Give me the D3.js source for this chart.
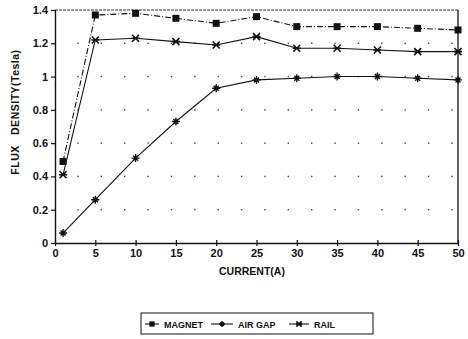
<!DOCTYPE html>
<meta charset="utf-8" />
<style>
    body { margin: 0; background: #fff; }
    text { font-family: "Liberation Sans", Arial, sans-serif; font-weight: bold; fill: #111; }
</style>
<body></body>
<script src="https://d3js.org/d3.v7.min.js"></script>
<script>

    // data
    var current = [1, 5, 10, 15, 20, 25, 30, 35, 40, 45, 50];
    var magnet = [0.49, 1.37, 1.38, 1.35, 1.32, 1.36, 1.30, 1.30, 1.30, 1.29, 1.28];
    var airGap = [0.06, 0.26, 0.51, 0.73, 0.93, 0.98, 0.99, 1.00, 1.00, 0.99, 0.98];
    var rail = [0.41, 1.22, 1.23, 1.21, 1.19, 1.24, 1.17, 1.17, 1.16, 1.15, 1.15];
    var xTicks = [0, 5, 10, 15, 20, 25, 30, 35, 40, 45, 50];
    var yTicks = [0, 0.2, 0.4, 0.6, 0.8, 1, 1.2, 1.4];
    var dotRows = [0.2, 0.4, 0.6, 0.8, 1, 1.2];
    var dotCols = d3.range(17).map(function (i) { return 2.85 + i * 2.9; });

    var svgWidth = 468, svgHeight = 339;
    var margin = {top: 10, right: 10, bottom: 96, left: 55};
    var width = 458 - margin.left;
    var height = 243 - margin.top;

    var svg = d3.select("body").append("svg")
        .attr("width", svgWidth)
        .attr("height", svgHeight);

    var g = svg.append("g")
        .attr("transform", "translate(" + margin.left + "," + margin.top + ")");

    var x = d3.scaleLinear().domain([0, 50]).range([0, width]);
    var y = d3.scaleLinear().domain([0, 1.4]).range([height, 0]);

    // dotted grid
    dotRows.forEach(function (r) {
        g.selectAll(null).data(dotCols).enter().append("rect")
            .attr("x", function (d) { return x(d) - 0.7; })
            .attr("y", y(r) - 0.7)
            .attr("width", 1.4).attr("height", 1.4)
            .attr("fill", "#444");
    });

    // frame: dashed top, solid right
    g.append("line").attr("x1", 0).attr("x2", width).attr("y1", 0).attr("y2", 0)
        .attr("stroke", "#333").attr("stroke-width", 1).attr("stroke-dasharray", "3,1");
    g.append("line").attr("x1", width).attr("x2", width).attr("y1", 0).attr("y2", height)
        .attr("stroke", "#111").attr("stroke-width", 1.3);

    // axes
    var xAxis = d3.axisBottom(x).tickValues(xTicks).tickSize(4).tickSizeOuter(0);
    var yAxis = d3.axisLeft(y).tickValues(yTicks).tickSize(4).tickSizeOuter(0)
        .tickFormat(function (d) { return d3.format("~g")(d); });

    var gx = g.append("g").attr("transform", "translate(0," + height + ")").call(xAxis);
    var gy = g.append("g").call(yAxis);
    [gx, gy].forEach(function (a) {
        a.select(".domain").attr("stroke", "#111").attr("stroke-width", 1.4);
        a.selectAll(".tick line").attr("stroke", "#111").attr("stroke-width", 1.2);
        a.selectAll("text").style("font-size", "11px").attr("fill", "#111");
    });
    gx.selectAll(".tick line").attr("y1", -3).attr("y2", 3);
    gx.selectAll("text").attr("dy", "0.6em");
    gy.selectAll(".tick line").attr("x1", -4).attr("x2", 1);

    // axis titles
    svg.append("text")
        .attr("x", 252).attr("y", 275)
        .attr("text-anchor", "middle")
        .style("font-size", "10.5px")
        .text("CURRENT(A)");
    svg.append("text")
        .attr("transform", "translate(19,112) rotate(-90)")
        .attr("text-anchor", "middle")
        .style("font-size", "10.5px")
        .style("letter-spacing", "0.5px")
        .attr("xml:space", "preserve")
        .text("FLUX   DENSITY(Tesla)");

    // series
    var series = [
        {name: "MAGNET", values: magnet, dash: "6,2,1,2", marker: "square"},
        {name: "AIR GAP", values: airGap, dash: null, marker: "plus"},
        {name: "RAIL", values: rail, dash: null, marker: "star"}
    ];

    var line = d3.line()
        .x(function (d) { return x(d[0]); })
        .y(function (d) { return y(d[1]); });

    function drawMarker(sel, type, cx, cy, s) {
        s = s || 1;
        if (type === "square") {
            sel.append("rect").attr("x", cx - 3.5 * s).attr("y", cy - 3.5 * s)
                .attr("width", 7 * s).attr("height", 7 * s).attr("fill", "#111");
        } else if (type === "plus") {
            sel.append("path")
                .attr("d", "M" + (cx - 4 * s) + "," + cy + "H" + (cx + 4 * s) + "M" + cx + "," + (cy - 4 * s) + "V" + (cy + 4 * s)
                    + "M" + (cx - 2.5 * s) + "," + (cy - 2.5 * s) + "L" + (cx + 2.5 * s) + "," + (cy + 2.5 * s)
                    + "M" + (cx - 2.5 * s) + "," + (cy + 2.5 * s) + "L" + (cx + 2.5 * s) + "," + (cy - 2.5 * s))
                .attr("stroke", "#111").attr("stroke-width", 1.4).attr("fill", "none");
        } else {
            sel.append("path")
                .attr("d", "M" + (cx - 4 * s) + "," + cy + "H" + (cx + 4 * s)
                    + "M" + (cx - 3.5 * s) + "," + (cy - 3.5 * s) + "L" + (cx + 3.5 * s) + "," + (cy + 3.5 * s)
                    + "M" + (cx - 3.5 * s) + "," + (cy + 3.5 * s) + "L" + (cx + 3.5 * s) + "," + (cy - 3.5 * s))
                .attr("stroke", "#111").attr("stroke-width", 1.6).attr("fill", "none");
        }
    }

    series.forEach(function (s) {
        var pts = current.map(function (c, i) { return [c, s.values[i]]; });
        g.append("path")
            .attr("d", line(pts))
            .attr("fill", "none")
            .attr("stroke", "#111")
            .attr("stroke-width", 1.1)
            .attr("stroke-dasharray", s.dash);
        var mg = g.append("g");
        pts.forEach(function (p) { drawMarker(mg, s.marker, x(p[0]), y(p[1])); });
    });

    // legend
    var legend = svg.append("g");
    legend.append("rect")
        .attr("x", 141).attr("y", 313).attr("width", 232).attr("height", 21)
        .attr("fill", "none").attr("stroke", "#111").attr("stroke-width", 1);
    var legendX = [145, 211, 289];
    var legendLen = [14, 22, 20];
    series.forEach(function (s, i) {
        var lx = legendX[i], ly = 324, len = legendLen[i];
        legend.append("line")
            .attr("x1", lx).attr("x2", lx + len).attr("y1", ly).attr("y2", ly)
            .attr("stroke", "#111").attr("stroke-width", 1.1);
        drawMarker(legend, s.marker, lx + len / 2, ly, 0.75);
        legend.append("text")
            .attr("x", lx + len + 5).attr("y", ly + 3.5)
            .style("font-size", "9px")
            .text(s.name);
    });

</script>
